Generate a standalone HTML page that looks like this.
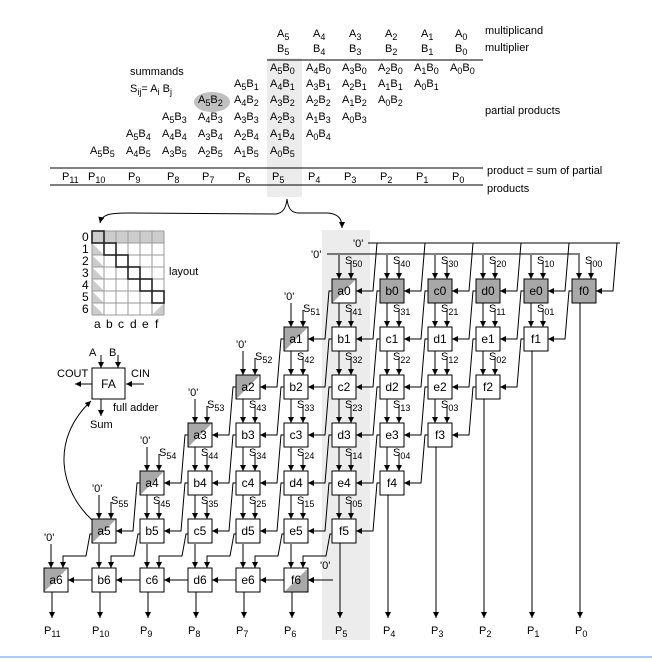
<!DOCTYPE html>
<html><head><meta charset="utf-8"><style>
html,body{margin:0;padding:0;background:#fff}
svg{display:block;font-family:"Liberation Sans",sans-serif}
text{fill:#000}
.t{font-size:11px}
.c{font-size:12px;text-anchor:middle}
.s{font-size:11px}
.b{font-size:9px}
</style></head><body>
<svg width="652" height="662" viewBox="0 0 652 662" xmlns="http://www.w3.org/2000/svg">
<defs>
<marker id="ar" viewBox="0 0 6 6" refX="6" refY="3" markerWidth="6" markerHeight="6" markerUnits="userSpaceOnUse" orient="auto-start-reverse"><path d="M0,0 L6,3 L0,6 z" fill="#000"/></marker>
<linearGradient id="dg" x1="0" y1="0" x2="1" y2="1"><stop offset="0.5" stop-color="#a8a8a8"/><stop offset="0.5" stop-color="#fff"/></linearGradient>
<linearGradient id="dr" x1="0" y1="0" x2="1" y2="1"><stop offset="0.5" stop-color="#fff"/><stop offset="0.5" stop-color="#a8a8a8"/></linearGradient>
<g id="w" fill="none" stroke="#000" stroke-width="1">
<polyline points="48,-36 45,-36 41,12 24,12" marker-end="url(#ar)"/>
<line x1="7" y1="-24" x2="7" y2="0" marker-end="url(#ar)"/>
<line x1="19" y1="-17" x2="19" y2="0" marker-end="url(#ar)"/>
</g>
<g id="w6" fill="none" stroke="#000" stroke-width="1">
<line x1="7" y1="-24" x2="7" y2="0" marker-end="url(#ar)"/>
<polyline points="48,-34 46,-34 42,-12 19,-12 19,0" marker-end="url(#ar)"/>
<line x1="48" y1="12" x2="24" y2="12" marker-end="url(#ar)"/>
<line x1="8" y1="24" x2="8" y2="50" marker-end="url(#ar)"/>
</g>
</defs>

<rect x="267" y="58" width="35" height="139" fill="#ececec"/>
<rect x="322" y="230" width="48" height="410" fill="#ececec"/>
<line x1="0" y1="657" x2="652" y2="657" stroke="#a8cdf0" stroke-width="2"/>

<g class="t">
<text x="277" y="37">A<tspan class="b" dy="3">5</tspan></text>
<text x="313" y="37">A<tspan class="b" dy="3">4</tspan></text>
<text x="349" y="37">A<tspan class="b" dy="3">3</tspan></text>
<text x="385" y="37">A<tspan class="b" dy="3">2</tspan></text>
<text x="421" y="37">A<tspan class="b" dy="3">1</tspan></text>
<text x="455" y="37">A<tspan class="b" dy="3">0</tspan></text>
<text x="277" y="52">B<tspan class="b" dy="3">5</tspan></text>
<text x="313" y="52">B<tspan class="b" dy="3">4</tspan></text>
<text x="349" y="52">B<tspan class="b" dy="3">3</tspan></text>
<text x="385" y="52">B<tspan class="b" dy="3">2</tspan></text>
<text x="421" y="52">B<tspan class="b" dy="3">1</tspan></text>
<text x="455" y="52">B<tspan class="b" dy="3">0</tspan></text>
<text x="485" y="34">multiplicand</text>
<text x="485" y="51">multiplier</text>
<text x="485" y="114">partial products</text>
<text x="487" y="174">product = sum of partial</text>
<text x="487" y="192">products</text>
<text x="130" y="75">summands</text>
<text x="130" y="92">S<tspan class="b" dy="3">ij</tspan><tspan dy="-3">= A</tspan><tspan class="b" dy="3">i</tspan><tspan dy="-3"> B</tspan><tspan class="b" dy="3">j</tspan></text>
</g>
<ellipse cx="212" cy="102" rx="18" ry="10" fill="#c0c0c0"/>
<line x1="267" y1="60" x2="483" y2="60" stroke="#000"/>
<line x1="50" y1="168" x2="483" y2="168" stroke="#000"/>
<line x1="50" y1="185" x2="483" y2="185" stroke="#000"/>

<g class="t">
<text x="270" y="71">A<tspan class="b" dy="3">5</tspan><tspan dy="-3">B</tspan><tspan class="b" dy="3">0</tspan></text>
<text x="306" y="71">A<tspan class="b" dy="3">4</tspan><tspan dy="-3">B</tspan><tspan class="b" dy="3">0</tspan></text>
<text x="342" y="71">A<tspan class="b" dy="3">3</tspan><tspan dy="-3">B</tspan><tspan class="b" dy="3">0</tspan></text>
<text x="378" y="71">A<tspan class="b" dy="3">2</tspan><tspan dy="-3">B</tspan><tspan class="b" dy="3">0</tspan></text>
<text x="414" y="71">A<tspan class="b" dy="3">1</tspan><tspan dy="-3">B</tspan><tspan class="b" dy="3">0</tspan></text>
<text x="450" y="71">A<tspan class="b" dy="3">0</tspan><tspan dy="-3">B</tspan><tspan class="b" dy="3">0</tspan></text>
<text x="234" y="87">A<tspan class="b" dy="3">5</tspan><tspan dy="-3">B</tspan><tspan class="b" dy="3">1</tspan></text>
<text x="270" y="87">A<tspan class="b" dy="3">4</tspan><tspan dy="-3">B</tspan><tspan class="b" dy="3">1</tspan></text>
<text x="306" y="87">A<tspan class="b" dy="3">3</tspan><tspan dy="-3">B</tspan><tspan class="b" dy="3">1</tspan></text>
<text x="342" y="87">A<tspan class="b" dy="3">2</tspan><tspan dy="-3">B</tspan><tspan class="b" dy="3">1</tspan></text>
<text x="378" y="87">A<tspan class="b" dy="3">1</tspan><tspan dy="-3">B</tspan><tspan class="b" dy="3">1</tspan></text>
<text x="414" y="87">A<tspan class="b" dy="3">0</tspan><tspan dy="-3">B</tspan><tspan class="b" dy="3">1</tspan></text>
<text x="198" y="103">A<tspan class="b" dy="3">5</tspan><tspan dy="-3">B</tspan><tspan class="b" dy="3">2</tspan></text>
<text x="234" y="103">A<tspan class="b" dy="3">4</tspan><tspan dy="-3">B</tspan><tspan class="b" dy="3">2</tspan></text>
<text x="270" y="103">A<tspan class="b" dy="3">3</tspan><tspan dy="-3">B</tspan><tspan class="b" dy="3">2</tspan></text>
<text x="306" y="103">A<tspan class="b" dy="3">2</tspan><tspan dy="-3">B</tspan><tspan class="b" dy="3">2</tspan></text>
<text x="342" y="103">A<tspan class="b" dy="3">1</tspan><tspan dy="-3">B</tspan><tspan class="b" dy="3">2</tspan></text>
<text x="378" y="103">A<tspan class="b" dy="3">0</tspan><tspan dy="-3">B</tspan><tspan class="b" dy="3">2</tspan></text>
<text x="162" y="120">A<tspan class="b" dy="3">5</tspan><tspan dy="-3">B</tspan><tspan class="b" dy="3">3</tspan></text>
<text x="198" y="120">A<tspan class="b" dy="3">4</tspan><tspan dy="-3">B</tspan><tspan class="b" dy="3">3</tspan></text>
<text x="234" y="120">A<tspan class="b" dy="3">3</tspan><tspan dy="-3">B</tspan><tspan class="b" dy="3">3</tspan></text>
<text x="270" y="120">A<tspan class="b" dy="3">2</tspan><tspan dy="-3">B</tspan><tspan class="b" dy="3">3</tspan></text>
<text x="306" y="120">A<tspan class="b" dy="3">1</tspan><tspan dy="-3">B</tspan><tspan class="b" dy="3">3</tspan></text>
<text x="342" y="120">A<tspan class="b" dy="3">0</tspan><tspan dy="-3">B</tspan><tspan class="b" dy="3">3</tspan></text>
<text x="126" y="137">A<tspan class="b" dy="3">5</tspan><tspan dy="-3">B</tspan><tspan class="b" dy="3">4</tspan></text>
<text x="162" y="137">A<tspan class="b" dy="3">4</tspan><tspan dy="-3">B</tspan><tspan class="b" dy="3">4</tspan></text>
<text x="198" y="137">A<tspan class="b" dy="3">3</tspan><tspan dy="-3">B</tspan><tspan class="b" dy="3">4</tspan></text>
<text x="234" y="137">A<tspan class="b" dy="3">2</tspan><tspan dy="-3">B</tspan><tspan class="b" dy="3">4</tspan></text>
<text x="270" y="137">A<tspan class="b" dy="3">1</tspan><tspan dy="-3">B</tspan><tspan class="b" dy="3">4</tspan></text>
<text x="306" y="137">A<tspan class="b" dy="3">0</tspan><tspan dy="-3">B</tspan><tspan class="b" dy="3">4</tspan></text>
<text x="90" y="154">A<tspan class="b" dy="3">5</tspan><tspan dy="-3">B</tspan><tspan class="b" dy="3">5</tspan></text>
<text x="126" y="154">A<tspan class="b" dy="3">4</tspan><tspan dy="-3">B</tspan><tspan class="b" dy="3">5</tspan></text>
<text x="162" y="154">A<tspan class="b" dy="3">3</tspan><tspan dy="-3">B</tspan><tspan class="b" dy="3">5</tspan></text>
<text x="198" y="154">A<tspan class="b" dy="3">2</tspan><tspan dy="-3">B</tspan><tspan class="b" dy="3">5</tspan></text>
<text x="234" y="154">A<tspan class="b" dy="3">1</tspan><tspan dy="-3">B</tspan><tspan class="b" dy="3">5</tspan></text>
<text x="270" y="154">A<tspan class="b" dy="3">0</tspan><tspan dy="-3">B</tspan><tspan class="b" dy="3">5</tspan></text>
<text x="62" y="180">P<tspan class="b" dy="3">11</tspan></text>
<text x="88" y="180">P<tspan class="b" dy="3">10</tspan></text>
<text x="128" y="180">P<tspan class="b" dy="3">9</tspan></text>
<text x="167" y="180">P<tspan class="b" dy="3">8</tspan></text>
<text x="202" y="180">P<tspan class="b" dy="3">7</tspan></text>
<text x="238" y="180">P<tspan class="b" dy="3">6</tspan></text>
<text x="272" y="180">P<tspan class="b" dy="3">5</tspan></text>
<text x="308" y="180">P<tspan class="b" dy="3">4</tspan></text>
<text x="344" y="180">P<tspan class="b" dy="3">3</tspan></text>
<text x="380" y="180">P<tspan class="b" dy="3">2</tspan></text>
<text x="416" y="180">P<tspan class="b" dy="3">1</tspan></text>
<text x="452" y="180">P<tspan class="b" dy="3">0</tspan></text>
</g>

<path d="M100,223 C102,214 110,213 130,213 L276,214 C283,213 286,208 287,199 C288,208 291,213 299,213 L328,213 C338,214 342,218 342,228" fill="none" stroke="#000" marker-start="url(#ar)" marker-end="url(#ar)"/>

<g stroke="none">
<rect x="92" y="231" width="72" height="12" fill="#cccccc"/>
<path d="M92,255 L92,243 L104,255 Z M92,267 L92,255 L104,267 Z M92,279 L92,267 L104,279 Z M92,291 L92,279 L104,291 Z M92,303 L92,291 L104,303 Z M92,315 L92,303 L104,315 Z" fill="#cccccc"/>
<path d="M164,303 L164,315 L152,315 Z" fill="#cccccc"/>
</g>
<g stroke="#9a9a9a" stroke-width="1" fill="none">
<path d="M92,231 V315 M104,231 V315 M116,231 V315 M128,231 V315 M140,231 V315 M152,231 V315 M164,231 V315 M92,231 H164 M92,243 H164 M92,255 H164 M92,267 H164 M92,279 H164 M92,291 H164 M92,303 H164 M92,315 H164"/>
</g>
<g stroke="#222" stroke-width="1.6" fill="none">
<rect x="92" y="231" width="12" height="12"/><rect x="104" y="243" width="12" height="12"/><rect x="116" y="255" width="12" height="12"/><rect x="128" y="267" width="12" height="12"/><rect x="140" y="279" width="12" height="12"/><rect x="152" y="291" width="12" height="12"/>
</g>
<g font-size="12">
<text x="82" y="241">0</text><text x="82" y="253">1</text><text x="82" y="265">2</text><text x="82" y="277">3</text><text x="82" y="289">4</text><text x="82" y="301">5</text><text x="82" y="313">6</text>
<text x="94" y="328">a</text><text x="106" y="328">b</text><text x="118" y="328">c</text><text x="130" y="328">d</text><text x="142" y="328">e</text><text x="155" y="328">f</text>
<text x="169" y="275" class="t">layout</text>
</g>

<rect x="92" y="368" width="33" height="31" fill="#fff" stroke="#000"/>
<text x="108.5" y="388" class="c">FA</text>
<g stroke="#000" fill="none">
<line x1="101" y1="355" x2="101" y2="368" marker-end="url(#ar)"/>
<line x1="118" y1="355" x2="118" y2="368" marker-end="url(#ar)"/>
<line x1="92" y1="384" x2="75" y2="384" marker-end="url(#ar)"/>
<line x1="144" y1="384" x2="126" y2="384" marker-end="url(#ar)"/>
<line x1="101" y1="399" x2="101" y2="416" marker-end="url(#ar)"/>
<path d="M92,520 C60,490 50,440 91,401" marker-end="url(#ar)"/>
</g>
<g class="t">
<text x="89" y="356">A</text><text x="109" y="356">B</text>
<text x="57" y="377">COUT</text><text x="131" y="377">CIN</text>
<text x="113" y="411">full adder</text><text x="90" y="428">Sum</text>
</g>

<g stroke="#000" fill="none">
<line x1="368" y1="243" x2="620" y2="243"/>
<line x1="327" y1="254" x2="580" y2="254"/>
<line x1="333" y1="580" x2="308" y2="580" marker-end="url(#ar)"/>
<line x1="580" y1="303" x2="580" y2="618" marker-end="url(#ar)"/>
<line x1="532" y1="351" x2="532" y2="618" marker-end="url(#ar)"/>
<line x1="484" y1="399" x2="484" y2="618" marker-end="url(#ar)"/>
<line x1="436" y1="447" x2="436" y2="618" marker-end="url(#ar)"/>
<line x1="388" y1="495" x2="388" y2="618" marker-end="url(#ar)"/>
<line x1="340" y1="543" x2="340" y2="618" marker-end="url(#ar)"/>
</g>
<g class="t">
<text x="353" y="247">'0'</text><text x="311" y="258">'0'</text><text x="320" y="569">'0'</text>
<text x="284" y="300">'0'</text><text x="236" y="348">'0'</text><text x="188" y="396">'0'</text><text x="140" y="444">'0'</text><text x="92" y="492">'0'</text><text x="44" y="541">'0'</text>
</g>

<use href="#w" x="332" y="279"/><use href="#w" x="380" y="279"/><use href="#w" x="428" y="279"/><use href="#w" x="476" y="279"/><use href="#w" x="524" y="279"/><use href="#w" x="572" y="279"/>
<use href="#w" x="284" y="327"/><use href="#w" x="332" y="327"/><use href="#w" x="380" y="327"/><use href="#w" x="428" y="327"/><use href="#w" x="476" y="327"/><use href="#w" x="524" y="327"/>
<use href="#w" x="236" y="375"/><use href="#w" x="284" y="375"/><use href="#w" x="332" y="375"/><use href="#w" x="380" y="375"/><use href="#w" x="428" y="375"/><use href="#w" x="476" y="375"/>
<use href="#w" x="188" y="423"/><use href="#w" x="236" y="423"/><use href="#w" x="284" y="423"/><use href="#w" x="332" y="423"/><use href="#w" x="380" y="423"/><use href="#w" x="428" y="423"/>
<use href="#w" x="140" y="471"/><use href="#w" x="188" y="471"/><use href="#w" x="236" y="471"/><use href="#w" x="284" y="471"/><use href="#w" x="332" y="471"/><use href="#w" x="380" y="471"/>
<use href="#w" x="92" y="519"/><use href="#w" x="140" y="519"/><use href="#w" x="188" y="519"/><use href="#w" x="236" y="519"/><use href="#w" x="284" y="519"/><use href="#w" x="332" y="519"/>
<use href="#w6" x="44" y="568"/><use href="#w6" x="92" y="568"/><use href="#w6" x="140" y="568"/><use href="#w6" x="188" y="568"/><use href="#w6" x="236" y="568"/><use href="#w6" x="284" y="568"/>

<g stroke="#000" stroke-width="1">
<rect x="332" y="279" width="24" height="24" fill="url(#dg)"/>
<rect x="380" y="279" width="24" height="24" fill="#a8a8a8"/>
<rect x="428" y="279" width="24" height="24" fill="#a8a8a8"/>
<rect x="476" y="279" width="24" height="24" fill="#a8a8a8"/>
<rect x="524" y="279" width="24" height="24" fill="#a8a8a8"/>
<rect x="572" y="279" width="24" height="24" fill="#a8a8a8"/>
<rect x="284" y="327" width="24" height="24" fill="url(#dg)"/>
<rect x="332" y="327" width="24" height="24" fill="#fff"/><rect x="380" y="327" width="24" height="24" fill="#fff"/><rect x="428" y="327" width="24" height="24" fill="#fff"/><rect x="476" y="327" width="24" height="24" fill="#fff"/><rect x="524" y="327" width="24" height="24" fill="#fff"/>
<rect x="236" y="375" width="24" height="24" fill="url(#dg)"/>
<rect x="284" y="375" width="24" height="24" fill="#fff"/><rect x="332" y="375" width="24" height="24" fill="#fff"/><rect x="380" y="375" width="24" height="24" fill="#fff"/><rect x="428" y="375" width="24" height="24" fill="#fff"/><rect x="476" y="375" width="24" height="24" fill="#fff"/>
<rect x="188" y="423" width="24" height="24" fill="url(#dg)"/>
<rect x="236" y="423" width="24" height="24" fill="#fff"/><rect x="284" y="423" width="24" height="24" fill="#fff"/><rect x="332" y="423" width="24" height="24" fill="#fff"/><rect x="380" y="423" width="24" height="24" fill="#fff"/><rect x="428" y="423" width="24" height="24" fill="#fff"/>
<rect x="140" y="471" width="24" height="24" fill="url(#dg)"/>
<rect x="188" y="471" width="24" height="24" fill="#fff"/><rect x="236" y="471" width="24" height="24" fill="#fff"/><rect x="284" y="471" width="24" height="24" fill="#fff"/><rect x="332" y="471" width="24" height="24" fill="#fff"/><rect x="380" y="471" width="24" height="24" fill="#fff"/>
<rect x="92" y="519" width="24" height="24" fill="url(#dg)"/>
<rect x="140" y="519" width="24" height="24" fill="#fff"/><rect x="188" y="519" width="24" height="24" fill="#fff"/><rect x="236" y="519" width="24" height="24" fill="#fff"/><rect x="284" y="519" width="24" height="24" fill="#fff"/><rect x="332" y="519" width="24" height="24" fill="#fff"/>
<rect x="44" y="568" width="24" height="24" fill="url(#dg)"/>
<rect x="92" y="568" width="24" height="24" fill="#fff"/><rect x="140" y="568" width="24" height="24" fill="#fff"/><rect x="188" y="568" width="24" height="24" fill="#fff"/><rect x="236" y="568" width="24" height="24" fill="#fff"/>
<rect x="284" y="568" width="24" height="24" fill="url(#dr)"/>
</g>

<g class="c">
<text x="344" y="295">a0</text><text x="392" y="295">b0</text><text x="440" y="295">c0</text><text x="488" y="295">d0</text><text x="536" y="295">e0</text><text x="584" y="295">f0</text>
<text x="296" y="343">a1</text><text x="344" y="343">b1</text><text x="392" y="343">c1</text><text x="440" y="343">d1</text><text x="488" y="343">e1</text><text x="536" y="343">f1</text>
<text x="248" y="391">a2</text><text x="296" y="391">b2</text><text x="344" y="391">c2</text><text x="392" y="391">d2</text><text x="440" y="391">e2</text><text x="488" y="391">f2</text>
<text x="200" y="439">a3</text><text x="248" y="439">b3</text><text x="296" y="439">c3</text><text x="344" y="439">d3</text><text x="392" y="439">e3</text><text x="440" y="439">f3</text>
<text x="152" y="487">a4</text><text x="200" y="487">b4</text><text x="248" y="487">c4</text><text x="296" y="487">d4</text><text x="344" y="487">e4</text><text x="392" y="487">f4</text>
<text x="104" y="535">a5</text><text x="152" y="535">b5</text><text x="200" y="535">c5</text><text x="248" y="535">d5</text><text x="296" y="535">e5</text><text x="344" y="535">f5</text>
<text x="56" y="584">a6</text><text x="104" y="584">b6</text><text x="152" y="584">c6</text><text x="200" y="584">d6</text><text x="248" y="584">e6</text><text x="296" y="584">f6</text>
</g>

<g class="s">
<text x="345" y="264">S<tspan font-size="9" dy="3">50</tspan></text><text x="393" y="264">S<tspan font-size="9" dy="3">40</tspan></text><text x="441" y="264">S<tspan font-size="9" dy="3">30</tspan></text><text x="489" y="264">S<tspan font-size="9" dy="3">20</tspan></text><text x="537" y="264">S<tspan font-size="9" dy="3">10</tspan></text><text x="585" y="264">S<tspan font-size="9" dy="3">00</tspan></text>
<text x="303" y="312">S<tspan font-size="9" dy="3">51</tspan></text><text x="345" y="312">S<tspan font-size="9" dy="3">41</tspan></text><text x="393" y="312">S<tspan font-size="9" dy="3">31</tspan></text><text x="441" y="312">S<tspan font-size="9" dy="3">21</tspan></text><text x="489" y="312">S<tspan font-size="9" dy="3">11</tspan></text><text x="537" y="312">S<tspan font-size="9" dy="3">01</tspan></text>
<text x="255" y="360">S<tspan font-size="9" dy="3">52</tspan></text><text x="297" y="360">S<tspan font-size="9" dy="3">42</tspan></text><text x="345" y="360">S<tspan font-size="9" dy="3">32</tspan></text><text x="393" y="360">S<tspan font-size="9" dy="3">22</tspan></text><text x="441" y="360">S<tspan font-size="9" dy="3">12</tspan></text><text x="489" y="360">S<tspan font-size="9" dy="3">02</tspan></text>
<text x="207" y="408">S<tspan font-size="9" dy="3">53</tspan></text><text x="249" y="408">S<tspan font-size="9" dy="3">43</tspan></text><text x="297" y="408">S<tspan font-size="9" dy="3">33</tspan></text><text x="345" y="408">S<tspan font-size="9" dy="3">23</tspan></text><text x="393" y="408">S<tspan font-size="9" dy="3">13</tspan></text><text x="441" y="408">S<tspan font-size="9" dy="3">03</tspan></text>
<text x="159" y="456">S<tspan font-size="9" dy="3">54</tspan></text><text x="201" y="456">S<tspan font-size="9" dy="3">44</tspan></text><text x="249" y="456">S<tspan font-size="9" dy="3">34</tspan></text><text x="297" y="456">S<tspan font-size="9" dy="3">24</tspan></text><text x="345" y="456">S<tspan font-size="9" dy="3">14</tspan></text><text x="393" y="456">S<tspan font-size="9" dy="3">04</tspan></text>
<text x="111" y="504">S<tspan font-size="9" dy="3">55</tspan></text><text x="153" y="504">S<tspan font-size="9" dy="3">45</tspan></text><text x="201" y="504">S<tspan font-size="9" dy="3">35</tspan></text><text x="249" y="504">S<tspan font-size="9" dy="3">25</tspan></text><text x="297" y="504">S<tspan font-size="9" dy="3">15</tspan></text><text x="345" y="504">S<tspan font-size="9" dy="3">05</tspan></text>
</g>

<g class="t">
<text x="44" y="634">P<tspan class="b" dy="3">11</tspan></text>
<text x="92" y="634">P<tspan class="b" dy="3">10</tspan></text>
<text x="140" y="634">P<tspan class="b" dy="3">9</tspan></text>
<text x="188" y="634">P<tspan class="b" dy="3">8</tspan></text>
<text x="236" y="634">P<tspan class="b" dy="3">7</tspan></text>
<text x="284" y="634">P<tspan class="b" dy="3">6</tspan></text>
<text x="335" y="634">P<tspan class="b" dy="3">5</tspan></text>
<text x="383" y="634">P<tspan class="b" dy="3">4</tspan></text>
<text x="431" y="634">P<tspan class="b" dy="3">3</tspan></text>
<text x="479" y="634">P<tspan class="b" dy="3">2</tspan></text>
<text x="527" y="634">P<tspan class="b" dy="3">1</tspan></text>
<text x="575" y="634">P<tspan class="b" dy="3">0</tspan></text>
</g>
</svg>
</body></html>
